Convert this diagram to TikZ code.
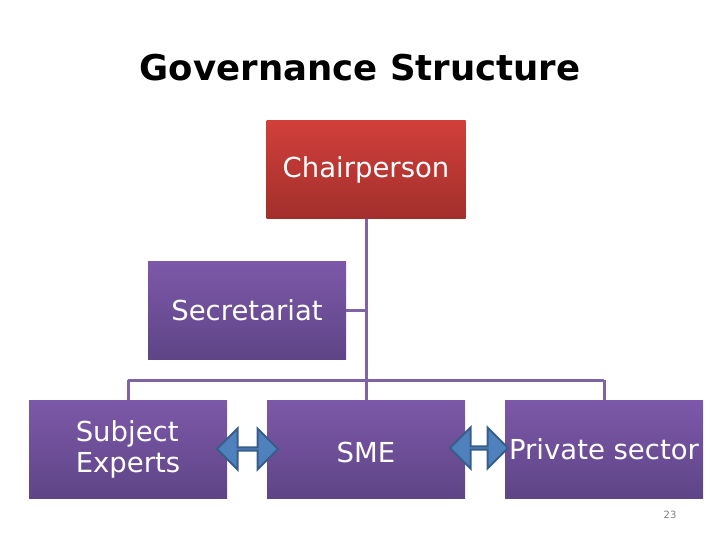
\documentclass[tikz,border=0pt]{standalone}
\usepackage{fontspec}
\setmainfont{DejaVu Sans}
\usetikzlibrary{shapes.arrows}
\definecolor{redtop}{HTML}{D13F3A}
\definecolor{redbot}{HTML}{A22F2C}
\definecolor{purtop}{HTML}{7D58A9}
\definecolor{purbot}{HTML}{5E4586}
\definecolor{linecol}{HTML}{7E63A6}
\definecolor{arrfill}{HTML}{4F81BD}
\definecolor{arrdraw}{HTML}{385D8A}
\tikzset{
  redbox/.style={rectangle, minimum width=199pt, minimum height=98pt, inner sep=0pt,
    top color=redtop, bottom color=redbot},
  purbox/.style={rectangle, minimum width=198pt, minimum height=98pt, inner sep=0pt,
    top color=purtop, bottom color=purbot},
  boxtext/.style={text=white, font=\fontsize{27.5}{31}\selectfont, inner sep=0pt},
  conn/.style={draw=linecol, line width=3pt},
  dblarrow/.style={single arrow, double arrow, fill=arrfill, draw=arrdraw, line width=2pt,
    double arrow head extend=12pt, double arrow head indent=0pt, inner sep=0pt, minimum width=41pt}
}
\begin{document}
\begin{tikzpicture}[x=1pt,y=-1pt]
\useasboundingbox (0,0) rectangle (720,540);
\node[font=\bfseries\fontsize{35.5}{40}\selectfont] (title) at (360,68) {Governance Structure};
\coordinate (lft) at (128,380);
\coordinate (rgt) at (604,380);
\coordinate (sj) at (366,310);
\node[redbox] (chair) at (366,170) {};
\node[purbox] (sec) at (247,310) {};
\node[purbox] (subj) at (128,449) {};
\node[purbox] (sme) at (366,449) {};
\node[purbox] (priv) at (604,449) {};
\draw[conn] (chair.south) -- (sme.north);
\draw[conn] (sec.east) -- (sj);
\draw[conn] (lft) -- (rgt);
\draw[conn] (lft) -- (subj.north);
\draw[conn] (rgt) -- (priv.north);
\node[boxtext] (chairt) at (366,170) {Chairperson};
\node[boxtext] (sect) at (247,310) {Secretariat};
\node[boxtext, align=left] (subjt) at (128,449) {Subject\\Experts};
\node[boxtext] (smet) at (366,452) {SME};
\node[dblarrow, minimum height=61pt] (a1) at (247.5,449) {};
\node[dblarrow, minimum height=58pt] (a2) at (479,448) {};
\node[boxtext] (privt) at (604,449) {Private sector};
\node[text=gray, font=\fontsize{10}{12}\selectfont] (pg) at (670,515) {23};
\end{tikzpicture}
\end{document}
